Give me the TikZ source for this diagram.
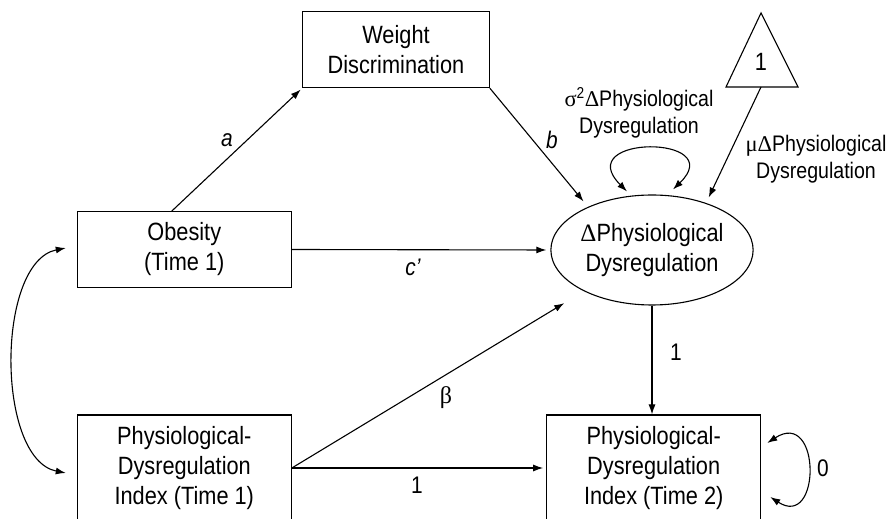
\documentclass[tikz,border=0pt]{standalone}
\usepackage{fontspec}
\setmainfont{Liberation Sans}[FakeStretch=0.87]
\newfontfamily\grk{Liberation Serif}
\usetikzlibrary{shapes.geometric,arrows.meta}

\begin{document}
\begin{tikzpicture}[x=1pt,y=1pt,line width=1.1pt,
	box/.style={draw,rectangle,inner sep=0pt,minimum width=214pt,align=center,font=\fontsize{25}{30}\selectfont},
	lat/.style={draw,ellipse,inner sep=0pt,minimum width=202pt,minimum height=110pt,align=center,font=\fontsize{25}{30}\selectfont},
	lbl/.style={inner sep=0pt,align=center,font=\fontsize{22.5}{27}\selectfont},
	elbl/.style={inner sep=0pt,font=\fontsize{24}{28}\selectfont},
	arr/.style={-{Latex[length=10pt,width=7pt]}},
	dbl/.style={{Latex[length=10pt,width=7pt]}-{Latex[length=10pt,width=7pt]}}]
	\useasboundingbox (0,0) rectangle (891,519);
	\clip (0,0) rectangle (891,519);
	% boxes
	\node[box,minimum width=186.6pt,minimum height=75.7pt] (wd) at (396,469.2) {Weight\\Discrimination};
	\node[box,minimum height=75.6pt] (obes) at (184.3,269.5) {Obesity\\(Time 1)};
	\node[box,minimum height=106pt] (pdi1) at (184.3,51) {Physiological-\\Dysregulation\\Index (Time 1)};
	\node[box,minimum height=106pt] (pdi2) at (653.7,51) {Physiological-\\Dysregulation\\Index (Time 2)};
	\node[lat] (dpd) at (652,269) {{\grk Δ}Physiological\\Dysregulation};
	% constant
	\coordinate (apex) at (761,506);
	\coordinate (tl) at (726,432);
	\coordinate (tr) at (798,432);
	\coordinate (tbase) at (761,432);
	\draw (apex) -- (tl) -- (tr) -- cycle;
	\node[font=\fontsize{25}{30}\selectfont] (one) at (761,457) {1};
	% paths
	\draw[arr,shorten >=2pt] ([xshift=-12.6pt]obes.north) -- (wd.south west);
	\draw[arr,shorten >=7pt] (wd.south east) -- (dpd.146);
	\draw[arr,shorten >=4pt] (obes.east) -- (dpd.west);
	\draw[arr,shorten >=23pt] (pdi1.east) -- (dpd);
	\draw[arr,shorten >=3pt] (pdi1.east) -- (pdi2.west);
	\draw[arr] (dpd.south) -- (dpd.south |- pdi2.north);
	\draw[arr,shorten >=6pt] (tbase) -- (dpd.41);
	\draw[dbl] ([shift={(-25,3)}]dpd.north) .. controls +(-57,57) and +(57,55) .. ([shift={(21,5)}]dpd.north);
	\draw[dbl] ([shift={(6,25)}]pdi2.east) .. controls +(54,35) and +(51,-33) .. ([shift={(9,-29)}]pdi2.east);
	\draw[dbl] ([shift={(-11,1.5)}]obes.west) .. controls +(-70,-14) and +(-70,14) .. ([shift={(-11,-5)}]pdi1.west);
	% labels
	\node[elbl,font=\fontsize{24}{28}\selectfont\itshape] (la) at (227,379) {a};
	\node[elbl,font=\fontsize{24}{28}\selectfont\itshape] (lb) at (552,379) {b};
	\node[elbl,font=\fontsize{24}{28}\selectfont\itshape] (lc) at (413,252) {c'};
	\node[elbl] (lbeta) at (446,121) {\grk β};
	\node[elbl] (lone) at (417,34) {1};
	\node[elbl] (ltwo) at (676,167) {1};
	\node[elbl] (lzero) at (823,51) {0};
	\node[lbl] (lvar) at (639,406) {{\grk σ}\textsuperscript{2}{\grk Δ}Physiological\\Dysregulation};
	\node[lbl] (lmean) at (816,360) {{\grk μ}{\grk Δ}Physiological\\Dysregulation};
\end{tikzpicture}
\end{document}
